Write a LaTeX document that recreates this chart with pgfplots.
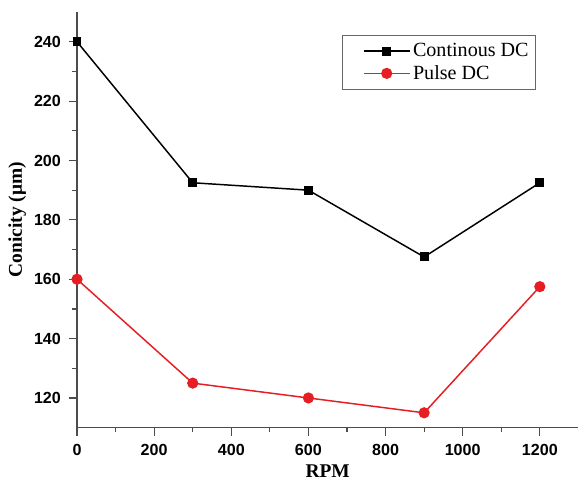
\documentclass[border=0pt]{standalone}
\usepackage{pgfplots}
\pgfplotsset{compat=1.18}
\usepackage{fontspec}
\setmainfont{Liberation Serif}
\newfontfamily\ticksans{Liberation Sans}
\definecolor{pulsered}{RGB}{230,30,35}

\begin{document}
\begin{tikzpicture}
\begin{axis}[
    scale only axis,
    width=374pt,
    height=310pt,
    xmin=0, xmax=1300,
    ymin=110, ymax=250,
    xtick={0,200,...,1200},
    ytick={120,140,...,240},
    minor x tick num=1,
    minor y tick num=1,
    axis lines=left,
    axis line style={-, black!70, line width=0.9pt},
    tick style={black!70, line width=0.9pt},
    tick align=outside,
    major tick length=6pt,
    minor tick length=3.5pt,
    /pgf/number format/assume math mode=true,
    /pgf/number format/1000 sep={},
    tick label style={font=\ticksans\bfseries\fontsize{12}{14}\selectfont},
    xticklabel style={yshift=-3pt},
    yticklabel style={xshift=-2.5pt},
    xlabel={\textbf{RPM}},
    ylabel={\textbf{Conicity (μm)}},
    label style={font=\fontsize{14.5}{16}\selectfont},
    ylabel style={yshift=-1pt},
    xlabel style={yshift=0pt},
    legend style={at={(rel axis cs:0.915,0.945)}, anchor=north east,
        draw=black!60, line width=0.6pt, font=\fontsize{15}{18}\selectfont,
        inner xsep=3pt, inner ysep=4pt, row sep=1pt},
    legend image code/.code={
        \path (-0.45cm,0cm);
        \draw[mark repeat=2,mark phase=2] plot coordinates {(0cm,0cm) (0.6cm,0cm) (1.2cm,0cm)};
    },
    legend cell align=left,
    clip=false,
]
\addplot[black, line width=1.1pt, mark=square*, mark size=2.8pt] coordinates {
    (0,240) (300,192.5) (600,190) (900,167.5) (1200,192.5)
};
\addlegendentry{Continous DC}
\addplot[pulsered, line width=1.1pt, mark=*, mark size=3.6pt] coordinates {
    (0,160) (300,125) (600,120) (900,115) (1200,157.5)
};
\addlegendentry{Pulse DC}
\end{axis}
\path ([yshift=9pt]current axis.north);
\path ([xshift=-3pt]current bounding box.west);
\end{tikzpicture}
\end{document}
